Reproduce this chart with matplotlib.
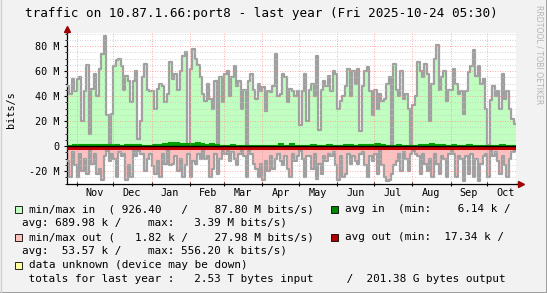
import datetime as dt
import numpy as np
import matplotlib
matplotlib.use('Agg')
import matplotlib.pyplot as plt
import matplotlib.dates as mdates
import matplotlib.transforms as mtransforms
from matplotlib.lines import Line2D
from matplotlib.patches import Rectangle

W, H = 547, 293
MONO = 'DejaVu Sans Mono'

# graph span and month boundaries
bounds = ['2024-10-24 05:30', '2024-11-01', '2024-12-01', '2025-01-01', '2025-02-01',
          '2025-03-01', '2025-04-01', '2025-05-01', '2025-06-01', '2025-07-01',
          '2025-08-01', '2025-09-01', '2025-10-01', '2025-10-24 05:30']

# max in per month segment (M bits/s)
in_max = [
    [48, 42, 54, 44],
    [54, 55, 20, 44, 65, 10, 46, 58, 40, 62, 74, 88, 25, 2, 26],
    [64, 69, 70, 64, 45, 56, 52, 35, 52, 60, 6, 20, 55, 66, 45, 44],
    [44, 30, 46, 50, 48, 35, 42, 67, 54, 58, 45, 60, 72, 75, 1],
    [62, 78, 70, 65, 55, 42, 36, 50, 38, 30, 52, 1, 55, 35],
    [58, 60, 40, 55, 64, 48, 52, 30, 45, 1, 52, 58, 45, 38, 50, 44],
    [47, 28, 44, 43, 48, 74, 40, 42, 58, 55, 35, 46, 44, 40, 44],
    [17, 44, 58, 20, 45, 50, 40, 72, 13, 45, 52, 48, 56, 44, 60, 58],
    [30, 36, 40, 48, 62, 40, 60, 50, 62, 12, 48, 60, 63, 44, 25],
    [45, 30, 42, 36, 38, 50, 55, 1, 66, 45, 40, 60, 38, 42, 30, 1],
    [33, 40, 67, 60, 55, 66, 58, 20, 50, 70, 81, 45, 55, 60, 36, 45],
    [45, 62, 50, 42, 44, 26, 44, 59, 64, 77, 56, 64, 50, 54, 30],
    [1, 37, 48, 40, 44, 30, 58, 38, 44, 30, 22, 18],
]

# max out per month segment (M bits/s, drawn below zero)
out_max = [
    [12, 25, 5, 15],
    [25, 6, 20, 10, 22, 4, 14, 6, 22, 18, 27, 8, 4, 12, 6],
    [10, 25, 5, 8, 6, 27, 15, 25, 4, 8, 4, 6, 6, 20, 10, 6],
    [16, 22, 12, 25, 6, 14, 2, 15, 14, 8, 20, 10, 25, 15, 6],
    [25, 12, 14, 6, 10, 4, 10, 8, 25, 18, 6, 22, 10, 4],
    [6, 4, 12, 5, 10, 15, 6, 4, 8, 25, 4, 6, 14, 18, 25, 14],
    [27, 12, 20, 8, 18, 10, 6, 12, 15, 8, 18, 25, 6, 12, 8],
    [4, 10, 25, 8, 8, 18, 6, 26, 14, 22, 8, 12, 6, 8, 5, 15],
    [27, 8, 25, 22, 6, 14, 8, 12, 14, 6, 5, 15, 25, 8, 12],
    [6, 22, 4, 15, 25, 28, 27, 22, 15, 12, 6, 20, 5, 10, 20, 6],
    [4, 6, 8, 22, 6, 14, 20, 10, 25, 6, 14, 22, 8, 10, 25, 6],
    [4, 6, 25, 8, 10, 28, 8, 22, 6, 25, 10, 28, 14, 8, 6],
    [25, 4, 8, 5, 12, 22, 8, 15, 25, 10, 5, 4],
]

# average in per month segment (M bits/s)
avg_in = [
    [1.2, 1.5],
    [1.5, 1.8, 2.0, 1.6, 1.8, 2.0, 1.5],
    [1.5, 1.2, 1.5, 1.8, 1.6, 1.2, 1.0],
    [1.5, 2.0, 2.2, 3.0, 3.4, 2.8, 2.2],
    [2.5, 3.0, 2.5, 2.0, 2.2, 1.5, 1.2],
    [1.0, 1.5, 1.2, 0.8, 1.0, 1.0, 0.8],
    [0.5, 0.8, 1.0, 2.2, 0.8, 2.5, 1.0],
    [0.8, 1.0, 2.0, 0.8, 1.0, 1.5, 1.0],
    [1.0, 1.5, 1.8, 1.2, 1.5, 2.0, 1.5],
    [2.5, 1.5, 1.0, 1.2, 1.5, 1.0, 0.8],
    [1.0, 1.5, 2.0, 2.5, 1.5, 1.5, 1.2],
    [1.5, 1.2, 1.0, 1.5, 1.2, 1.0, 0.8],
    [1.0, 1.2, 1.5, 1.0, 1.2],
]

# average out per month segment (M bits/s)
avg_out = [
    [0.05, 0.06], [0.05, 0.07], [0.04, 0.05], [0.06, 0.08], [0.05, 0.06],
    [0.04, 0.05], [0.05, 0.06], [0.05, 0.04], [0.06, 0.05], [0.07, 0.05],
    [0.05, 0.06], [0.05, 0.04], [0.04, 0.05],
]

legend_rows = [
    ('#c0ffc0', 'min/max in  ( 926.40   /    87.80 M bits/s)', '#008800', 'avg in  (min:    6.14 k /'),
    (None, 'avg: 689.98 k /    max:   3.39 M bits/s)', None, None),
    ('#ffc0c0', 'min/max out (   1.82 k /    27.98 M bits/s)', '#b00000', 'avg out (min:  17.34 k /'),
    (None, 'avg:  53.57 k /    max: 556.20 k bits/s)', None, None),
    ('#ffffa0', 'data unknown (device may be down)', None, None),
    (None, ' totals for last year :   2.53 T bytes input     /  201.38 G bytes output', None, None),
]

edge_num = mdates.date2num([dt.datetime.fromisoformat(b) for b in bounds])


def steps(segs):
    xs, ys = [], []
    for i, vals in enumerate(segs):
        edges = np.linspace(edge_num[i], edge_num[i + 1], len(vals) + 1)
        xs.extend(edges[:-1])
        ys.extend(vals)
    xs.append(edge_num[-1])
    ys.append(segs[-1][-1])
    return np.array(xs), np.array(ys, float) * 1e6


def px(x, y):
    return x / W, 1 - y / H


fig = plt.figure(figsize=(W / 100, H / 100), dpi=100, facecolor='#f2f2f2')
ax = fig.add_axes([67 / W, (H - 184) / H, (516 - 67) / W, (184 - 33) / H])
ax.set_facecolor('white')

x_in, y_in = steps(in_max)
x_out, y_out = steps(out_max)
x_ai, y_ai = steps(avg_in)
x_ao, y_ao = steps(avg_out)

ax.fill_between(x_in, 0, y_in, step='post', color='#c0ffc0', lw=0, zorder=2)
ax.step(x_in, y_in, where='post', color='#a0a0a0', lw=1.6, zorder=3)
ax.fill_between(x_out, 0, -y_out, step='post', color='#ffc0c0', lw=0, zorder=2)
ax.step(x_out, -y_out, where='post', color='#a0a0a0', lw=1.6, zorder=3)
ax.fill_between(x_ai, 0, y_ai, step='post', color='#00a000', lw=0, zorder=4)
ax.step(x_ai, y_ai, where='post', color='#00a000', lw=0.8, zorder=4)

# grid over data, like rrdtool
for v in np.arange(-30e6, 91e6, 5e6):
    if v % 20e6 == 0:
        continue
    ax.axhline(v, color='#c8c8c8', lw=0.6, ls=(0, (1, 2)), zorder=5)
for v in np.arange(-20e6, 81e6, 20e6):
    if v != 0:
        ax.axhline(v, color='#ff9090', lw=0.6, ls=(0, (1, 2)), zorder=5)
for m in edge_num[1:-1]:
    ax.axvline(m, color='#ff9090', lw=0.6, ls=(0, (1, 2)), zorder=5)

off = mtransforms.offset_copy(ax.transData, fig=fig, x=0, y=-1.8, units='dots')
ax.step(x_ao, -y_ao, where='post', color='#c00000', lw=2.2, zorder=6, transform=off)
ax.axhline(0, color='black', lw=1.0, zorder=7)

ax.set_xlim(edge_num[0], edge_num[-1])
ax.set_ylim(-30.4e6, 90.4e6)

ax.yaxis.set_major_locator(plt.MultipleLocator(20e6))
ax.yaxis.set_minor_locator(plt.MultipleLocator(5e6))
ax.yaxis.set_major_formatter(plt.FuncFormatter(lambda v, p: '0' if v == 0 else '%d M' % round(v / 1e6)))
ax.xaxis.set_major_locator(mdates.MonthLocator(bymonthday=1))
ax.xaxis.set_major_formatter(plt.NullFormatter())
ax.xaxis.set_minor_locator(mdates.MonthLocator(bymonthday=16))
ax.xaxis.set_minor_formatter(mdates.DateFormatter('%b'))

ax.tick_params(axis='y', which='major', length=2.5, width=0.8, pad=3.0, labelsize=7.3)
ax.tick_params(axis='y', which='minor', length=1.8, width=0.6)
ax.tick_params(axis='x', which='major', length=3, width=0.8, direction='inout')
ax.tick_params(axis='x', which='minor', length=0, pad=3.0, labelsize=7.3)
for lab in ax.get_yticklabels() + ax.get_xticklabels(minor=True):
    lab.set_family(MONO)

for s in ('top', 'right'):
    ax.spines[s].set_visible(False)
for s in ('left', 'bottom'):
    ax.spines[s].set_linewidth(0.9)

# axis arrows
ax.plot([0, 0], [1, 1.02], color='black', lw=0.9, transform=ax.transAxes, clip_on=False)
ax.plot([1, 1.01], [0, 0], color='black', lw=0.9, transform=ax.transAxes, clip_on=False)
ax.plot([0], [1.025], marker='^', ms=4, color='#a00000', mec='#a00000', transform=ax.transAxes, clip_on=False)
ax.plot([1.011], [0], marker='>', ms=4, color='#a00000', mec='#a00000', transform=ax.transAxes, clip_on=False)

fig.text(*px(11, 110), 'bits/s', rotation=90, ha='center', va='center', family=MONO, fontsize=7.3)
fig.text(*px(261, 14), 'traffic on 10.87.1.66:port8 - last year (Fri 2025-10-24 05:30)',
         ha='center', va='center', family=MONO, fontsize=9.1)
fig.text(*px(539, 5), 'RRDTOOL / TOBI OETIKER', rotation=270, ha='center', va='top',
         family='DejaVu Sans', fontsize=5.6, color='#b4b4b4')

# legend
row_y = [209.5, 223.5, 237.5, 251.5, 265.5, 279.5]
for y, (c1, t1, c2, t2) in zip(row_y, legend_rows):
    if c1:
        fig.patches.append(Rectangle(px(15, y + 3.5), 7 / W, 7 / H, facecolor=c1, edgecolor='black',
                                     lw=0.6, transform=fig.transFigure))
        fig.text(*px(29, y), t1, ha='left', va='center', family=MONO, fontsize=7.9)
    else:
        fig.text(*px(22.5, y), t1, ha='left', va='center', family=MONO, fontsize=7.9)
    if c2:
        fig.patches.append(Rectangle(px(331, y + 3.5), 7 / W, 7 / H, facecolor=c2, edgecolor='black',
                                     lw=0.6, transform=fig.transFigure))
        fig.text(*px(345, y), t2, ha='left', va='center', family=MONO, fontsize=7.9)

# image frame
fig.add_artist(Line2D([0, 1], [0.5 / H, 0.5 / H], color='#9c9c9c', lw=1.4, transform=fig.transFigure))
fig.add_artist(Line2D([1 - 0.5 / W, 1 - 0.5 / W], [0, 1], color='#9c9c9c', lw=1.4, transform=fig.transFigure))
fig.add_artist(Line2D([0.5 / W, 0.5 / W], [0, 1], color='#d0d0d0', lw=1, transform=fig.transFigure))

fig.savefig('out.png', dpi=100, facecolor=fig.get_facecolor())
